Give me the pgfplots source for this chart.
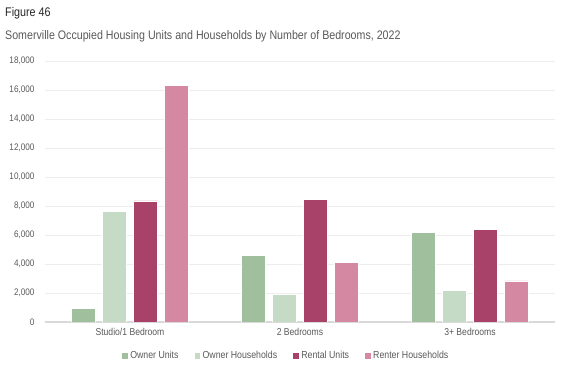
\documentclass[border=0pt]{standalone}
\usepackage{pgfplots}
\pgfplotsset{compat=1.18}
\usepackage{fontspec}
\setmainfont{Liberation Sans}[FakeStretch=0.86]
\definecolor{ou}{HTML}{9FBF9D}
\definecolor{oh}{HTML}{C5DBC6}
\definecolor{ru}{HTML}{A84268}
\definecolor{rh}{HTML}{D488A2}
\definecolor{tx}{HTML}{595959}
\begin{document}
\begin{tikzpicture}[x=1pt,y=1pt]
\path[use as bounding box] (0,0) rectangle (562,371);
\node[anchor=west,inner sep=0pt,font=\fontsize{12.5}{14}\selectfont,text=black!85] at (5,358) {Figure 46};
\node[anchor=west,inner sep=0pt,font=\fontsize{12.4}{14}\selectfont,text=tx] at (5,335) {Somerville Occupied Housing Units and Households by Number of Bedrooms, 2022};
\begin{axis}[
  at={(45pt,49pt)}, anchor=south west,
  scale only axis, width=510pt, height=261pt,
  ybar=0pt, bar width=24pt,
  xmin=-0.5, xmax=2.5, ymin=0, ymax=18000,
  xtick=data, xticklabels={Studio/1 Bedroom,2 Bedrooms,3+ Bedrooms},
  ytick={0,2000,...,18000},
  scaled y ticks=false,
  yticklabel={\pgfmathprintnumber[fixed,precision=0,1000 sep={,},assume math mode=true]{\tick}},
  /pgf/number format/assume math mode=true,
  ymajorgrids, grid style={draw=black!7, line width=0.6pt},
  axis line style={draw=none},
  axis x line*=bottom, axis y line*=left,
  major tick length=0pt,
  tick label style={font=\fontsize{10}{11}\selectfont, text=tx},
  yticklabel style={xshift=-7pt, font=\fontsize{9.5}{11}\selectfont},
  xticklabel style={yshift=-3pt},
  legend style={at={(0.472,-0.13)}, anchor=center, draw=none, fill=none,
    legend columns=4, font=\fontsize{10.2}{11}\selectfont, text=tx,
    /tikz/every even column/.append style={column sep=13pt}},
  legend image code/.code={\fill[#1] (0pt,-3.2pt) rectangle (6.5pt,3.2pt);},
  every axis plot/.append style={draw=white, line width=0.6pt},
  extra y ticks={0}, extra y tick labels={}, extra y tick style={grid style={draw=black!15, line width=1.2pt}},
]
\addplot[fill=ou, bar shift=-46.5pt] coordinates {(0,960) (1,4600) (2,6200)};
\addplot[fill=oh, bar shift=-15.5pt] coordinates {(0,7650) (1,1930) (2,2190)};
\addplot[fill=ru, bar shift=15.5pt] coordinates {(0,8350) (1,8480) (2,6390)};
\addplot[fill=rh, bar shift=46.5pt] coordinates {(0,16300) (1,4110) (2,2830)};
\legend{Owner Units,Owner Households,Rental Units,Renter Households}
\end{axis}
\end{tikzpicture}
\end{document}
